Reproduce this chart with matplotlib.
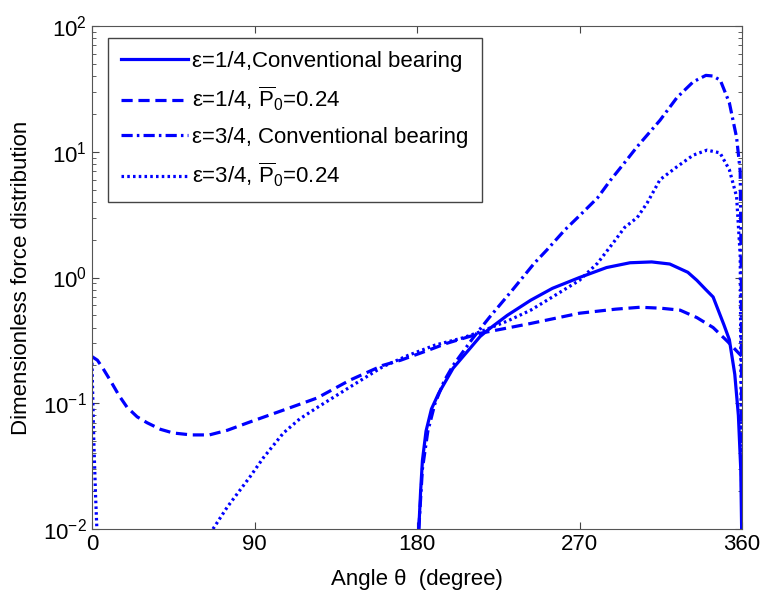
import numpy as np
import matplotlib
matplotlib.use("Agg")
import matplotlib.pyplot as plt

plt.rcParams['font.family'] = ['Liberation Sans', 'DejaVu Sans']
plt.rcParams['mathtext.fontset'] = 'custom'
plt.rcParams['mathtext.rm'] = 'Liberation Sans'
plt.rcParams['mathtext.it'] = 'Liberation Sans:italic'
plt.rcParams['mathtext.bf'] = 'Liberation Sans:bold'

nan = np.nan

# eps = 1/4, conventional bearing (solid)
ang_s1 = [181.0, 182, 183, 185, 188, 192, 200, 210, 215, 220, 230, 243, 255, 270,
          285, 298, 310, 320, 330, 335, 340, 344, 350, 353, 356, 358, 359.3, 359.8]
val_s1 = [0.01, 0.02, 0.035, 0.06, 0.09, 0.12, 0.19, 0.28, 0.34, 0.39, 0.5, 0.66, 0.82, 1.0,
          1.2, 1.31, 1.33, 1.28, 1.1, 0.95, 0.8, 0.7, 0.42, 0.32, 0.17, 0.08, 0.03, 0.01]

# eps = 1/4, P0 = 0.24 (dashed)
ang_d1 = [0, 3, 6, 10, 15, 19.4, 25, 30.5, 38, 45, 55, 65, 75, 87.5, 105.8, 124.6, 143,
          161, 171, 185, 196.6, 215, 242.6, 270, 290, 303.5, 315, 325.7, 335, 344, 352, 360]
val_d1 = [0.235, 0.22, 0.19, 0.153, 0.115, 0.093, 0.078, 0.07, 0.062, 0.058, 0.056, 0.056,
          0.061, 0.071, 0.088, 0.11, 0.153, 0.2, 0.22, 0.26, 0.3, 0.36, 0.43, 0.52, 0.56,
          0.58, 0.57, 0.55, 0.48, 0.4, 0.31, 0.235]

# eps = 3/4, conventional bearing (dash-dot)
ang_s3 = [181, 183, 186, 190, 195, 200, 211, 220, 233, 245, 252, 262, 270, 280, 287, 295,
          302, 314.6, 324, 333, 340, 344, 348, 353, 357, 359, 359.6, 359.9]
val_s3 = [0.01, 0.03, 0.06, 0.1, 0.15, 0.2, 0.33, 0.48, 0.8, 1.3, 1.66, 2.4, 3.1, 4.3, 5.9,
          8.2, 11, 17.8, 27, 36, 40.5, 40, 37, 24.5, 13, 7, 1, 0.01]

# eps = 3/4, P0 = 0.24 (dotted)
ang_d3 = [0, 0.5, 1.0, 1.5, 2.0, 2.7, nan, 67, 75, 87.5, 95, 106, 115, 125, 143, 161, 175,
          190, 205, 215, 230, 243, 255, 270, 280, 288.6, 295, 302, 307.4, 314.6, 324, 333,
          340.6, 347.8, 353, 357, 359, 359.9]
val_d3 = [0.21, 0.1, 0.05, 0.03, 0.018, 0.01, nan, 0.01, 0.015, 0.026, 0.037, 0.058, 0.075,
          0.093, 0.135, 0.195, 0.24, 0.29, 0.33, 0.37, 0.45, 0.55, 0.7, 0.95, 1.3, 1.88, 2.5,
          3.0, 3.9, 6.0, 7.6, 9.4, 10.3, 9.8, 7.2, 4.4, 1.5, 0.01]

labels = [r'ε=1/4,Conventional bearing',
          r'ε=1/4, $\overline{\mathrm{P}}_0$=0.24',
          r'ε=3/4, Conventional bearing',
          r'ε=3/4, $\overline{\mathrm{P}}_0$=0.24']

fig = plt.figure(figsize=(7.64, 5.93), dpi=100)
ax = fig.add_axes([92 / 764, 64 / 593, 650 / 764, 503 / 593])

blue = '#0000ff'
lw = 2.3
ax.semilogy(ang_s1, val_s1, color=blue, lw=lw, ls='-', label=labels[0])
ax.semilogy(ang_d1, val_d1, color=blue, lw=lw, ls=(0, (3.5, 1.8)), label=labels[1])
ax.semilogy(ang_s3, val_s3, color=blue, lw=lw, ls=(0, (3.5, 1.3, 0.8, 1.3)), label=labels[2])
ax.semilogy(ang_d3, val_d3, color=blue, lw=lw, ls=(0, (0.8, 1.0)), label=labels[3])

ax.set_xlim(0, 360)
ax.set_ylim(1e-2, 1e2)
ax.set_xticks([0, 90, 180, 270, 360])
ax.tick_params(which='both', direction='in', top=True, right=True, labelsize=16,
               color='#444444')
ax.tick_params(which='major', length=5)
ax.tick_params(which='minor', length=3)
for sp in ax.spines.values():
    sp.set_color('#555555')

ax.set_xlabel('Angle θ  (degree)', fontsize=16, labelpad=10)
ax.set_ylabel('Dimensionless force distribution', fontsize=16, labelpad=8)

leg = ax.legend(loc='upper left', bbox_to_anchor=(0.024, 0.977), borderaxespad=0,
                fontsize=16, fancybox=False, edgecolor='#444444', framealpha=1,
                handlelength=3.0, handletextpad=0.2, labelspacing=0.6, borderpad=0.6)
leg.get_frame().set_linewidth(1.0)

fig.savefig('out.png', dpi=100)
